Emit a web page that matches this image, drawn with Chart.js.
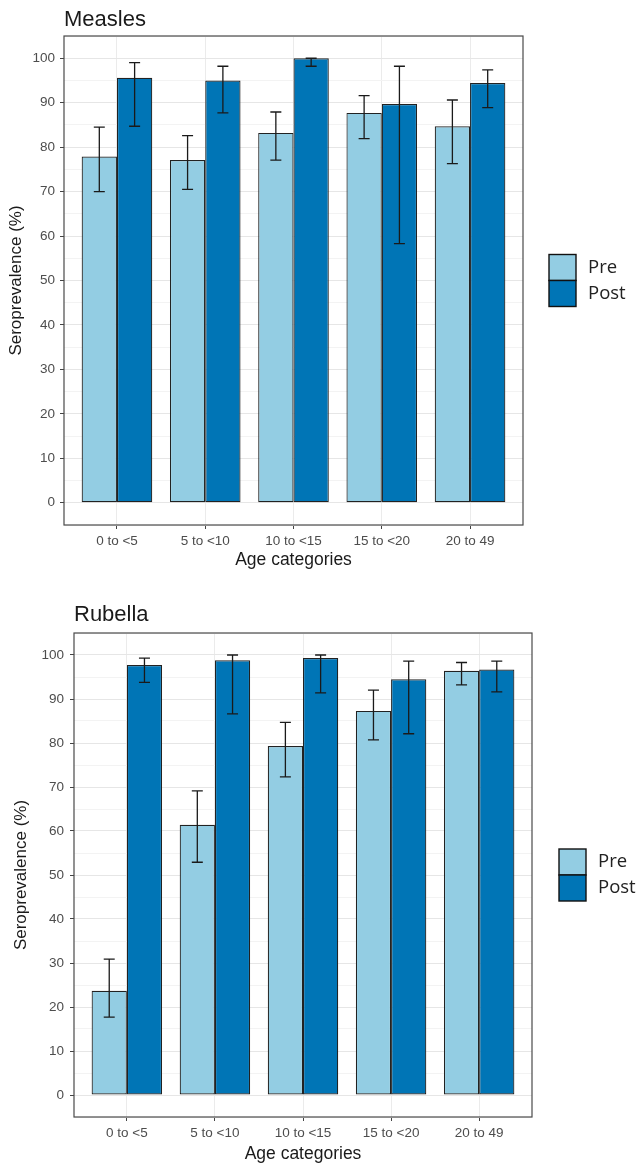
<!DOCTYPE html>
<html>
<head>
<meta charset="utf-8">
<script src="https://cdn.jsdelivr.net/npm/chart.js@4.4.0/dist/chart.umd.min.js"></script>
<style>
  html, body { margin: 0; padding: 0; background: #fff; }
  .wrap { position: absolute; left: 0; width: 642px; height: 580px; }
</style>
</head>
<body>
<div class="wrap" style="top:0"><canvas id="measles-chart" width="642" height="580"></canvas></div>
<div class="wrap" style="top:585px"><canvas id="rubella-chart" width="642" height="580"></canvas></div>
<script>
// data
const categories = ['0 to <5', '5 to <10', '10 to <15', '15 to <20', '20 to 49'];
const seriesNames = ['Pre', 'Post'];
const yTickLabels = [0, 10, 20, 30, 40, 50, 60, 70, 80, 90, 100];

const measlesPre = [77.9, 77.1, 83.2, 87.7, 84.7];
const measlesPreLow = [70.0, 70.5, 77.1, 81.9, 76.3];
const measlesPreHigh = [84.5, 82.6, 87.9, 91.6, 90.6];
const measlesPost = [95.6, 95.0, 100, 89.7, 94.4];
const measlesPostLow = [84.7, 87.7, 98.2, 58.3, 88.9];
const measlesPostHigh = [99.0, 98.2, 100, 98.2, 97.4];

const rubellaPre = [23.7, 61.4, 79.3, 87.3, 96.4];
const rubellaPreLow = [17.7, 52.9, 72.3, 80.7, 93.2];
const rubellaPreHigh = [30.9, 69.1, 84.7, 92.0, 98.3];
const rubellaPost = [97.7, 98.8, 99.3, 94.5, 96.7];
const rubellaPostLow = [93.8, 86.6, 91.4, 82.1, 91.6];
const rubellaPostHigh = [99.3, 100, 100, 98.6, 98.6];

const preColor = '#93cde3';
const postColor = '#0075b6';
const FONT = "'Liberation Sans', Arial, sans-serif";

// error bars, panel border, title and legend
const extrasPlugin = {
    id: 'extras',
    afterDatasetsDraw(chart) {
        const ctx = chart.ctx;
        const y = chart.scales.y;
        ctx.save();
        ctx.strokeStyle = '#1a1a1a';
        ctx.lineWidth = 1.3;
        chart.data.datasets.forEach((ds, di) => {
            const meta = chart.getDatasetMeta(di);
            meta.data.forEach((bar, i) => {
                const top = y.getPixelForValue(ds.errHigh[i]);
                const bot = y.getPixelForValue(ds.errLow[i]);
                const x = bar.x;
                ctx.beginPath();
                ctx.moveTo(x, top); ctx.lineTo(x, bot);
                ctx.moveTo(x - 5.5, top); ctx.lineTo(x + 5.5, top);
                ctx.moveTo(x - 5.5, bot); ctx.lineTo(x + 5.5, bot);
                ctx.stroke();
            });
        });
        ctx.restore();
    },
    afterDraw(chart, args, opts) {
        const ctx = chart.ctx;
        const a = chart.chartArea;
        ctx.save();
        // panel border
        ctx.strokeStyle = '#4a4a4a';
        ctx.lineWidth = 1.2;
        ctx.strokeRect(a.left, a.top, a.right - a.left, a.bottom - a.top);
        // title
        ctx.fillStyle = '#1a1a1a';
        ctx.font = '22px ' + FONT;
        ctx.textAlign = 'left';
        ctx.textBaseline = 'alphabetic';
        ctx.fillText(opts.title, a.left, a.top - opts.titleGap);
        // legend
        const bw = 27, bh = 26;
        const bx = a.right + opts.legendGap;
        let by = (a.top + a.bottom) / 2 - bh;
        ctx.font = "18.5px 'Open Sans', sans-serif";
        ctx.textBaseline = 'middle';
        chart.data.datasets.forEach((ds) => {
            ctx.fillStyle = ds.backgroundColor;
            ctx.fillRect(bx, by, bw, bh);
            ctx.strokeStyle = '#111';
            ctx.lineWidth = 1.4;
            ctx.strokeRect(bx, by, bw, bh);
            ctx.fillStyle = '#222';
            ctx.fillText(ds.label, bx + bw + 12, by + bh / 2);
            by += bh;
        });
        ctx.restore();
    }
};

function drawSeroChart(canvasId, title, pre, preLow, preHigh, post, postLow, postHigh, g) {
    const ctx = document.getElementById(canvasId).getContext('2d');
    const xHeight = 48;
    new Chart(ctx, {
        type: 'bar',
        data: {
            datasets: [{
                label: seriesNames[0],
                data: categories.map((c, i) => ({ x: i + 1, y: pre[i] })),
                errLow: preLow,
                errHigh: preHigh,
                backgroundColor: preColor,
                borderColor: '#222',
                borderWidth: 1.2,
                borderSkipped: false
            }, {
                label: seriesNames[1],
                data: categories.map((c, i) => ({ x: i + 1, y: post[i] })),
                errLow: postLow,
                errHigh: postHigh,
                backgroundColor: postColor,
                borderColor: '#222',
                borderWidth: 1.2,
                borderSkipped: false
            }]
        },
        options: {
            responsive: false,
            animation: false,
            categoryPercentage: 0.8,
            barPercentage: 1.0,
            layout: {
                padding: { left: 0, top: g.top, right: 642 - g.right, bottom: 580 - g.bottom - xHeight }
            },
            plugins: {
                legend: { display: false },
                tooltip: { enabled: false },
                extras: { title: title, titleGap: g.titleGap, legendGap: g.legendGap }
            },
            scales: {
                x: {
                    type: 'linear',
                    min: 0.4,
                    max: 5.6,
                    offset: false,
                    afterBuildTicks(scale) {
                        scale.ticks = categories.map((c, i) => ({ value: i + 1 }));
                    },
                    afterFit(scale) { scale.height = xHeight; },
                    grid: { offset: false, color: '#ebebeb', lineWidth: 1, tickColor: '#444', tickLength: 4 },
                    border: { display: false },
                    ticks: {
                        autoSkip: false,
                        maxRotation: 0,
                        padding: 4,
                        color: '#4d4d4d',
                        font: { family: FONT, size: 13.5 },
                        callback: (v) => categories[v - 1]
                    },
                    title: {
                        display: true,
                        text: 'Age categories',
                        color: '#1a1a1a',
                        font: { family: FONT, size: 17.5 },
                        padding: { top: 0, bottom: g.xTitlePad }
                    }
                },
                y: {
                    min: -5,
                    max: 105,
                    afterFit(scale) { scale.width = g.left; },
                    grid: {
                        color: (c) => (c.tick && c.tick.value % 10 === 0) ? '#e6e6e6' : '#f3f3f3',
                        lineWidth: 1,
                        tickColor: (c) => (c.tick && yTickLabels.includes(c.tick.value)) ? '#444' : 'rgba(0,0,0,0)',
                        tickLength: 4
                    },
                    border: { display: false },
                    ticks: {
                        stepSize: 5,
                        autoSkip: false,
                        padding: g.tickPad,
                        color: '#4d4d4d',
                        font: { family: FONT, size: 13.5 },
                        callback: (v) => yTickLabels.includes(v) ? String(v) : ''
                    },
                    title: {
                        display: true,
                        text: 'Seroprevalence (%)',
                        color: '#1a1a1a',
                        font: { family: FONT, size: 17 },
                        padding: { top: g.yTitlePad, bottom: 0 }
                    }
                }
            }
        },
        plugins: [extrasPlugin]
    });
}

drawSeroChart('measles-chart', 'Measles',
    measlesPre, measlesPreLow, measlesPreHigh, measlesPost, measlesPostLow, measlesPostHigh,
    { left: 64, top: 36, right: 523, bottom: 525, titleGap: 10, legendGap: 26, yTitlePad: 6, tickPad: 5, xTitlePad: 2 });

drawSeroChart('rubella-chart', 'Rubella',
    rubellaPre, rubellaPreLow, rubellaPreHigh, rubellaPost, rubellaPostLow, rubellaPostHigh,
    { left: 74, top: 48, right: 532, bottom: 532, titleGap: 12, legendGap: 27, yTitlePad: 11, tickPad: 6, xTitlePad: 0 });
</script>
</body>
</html>
